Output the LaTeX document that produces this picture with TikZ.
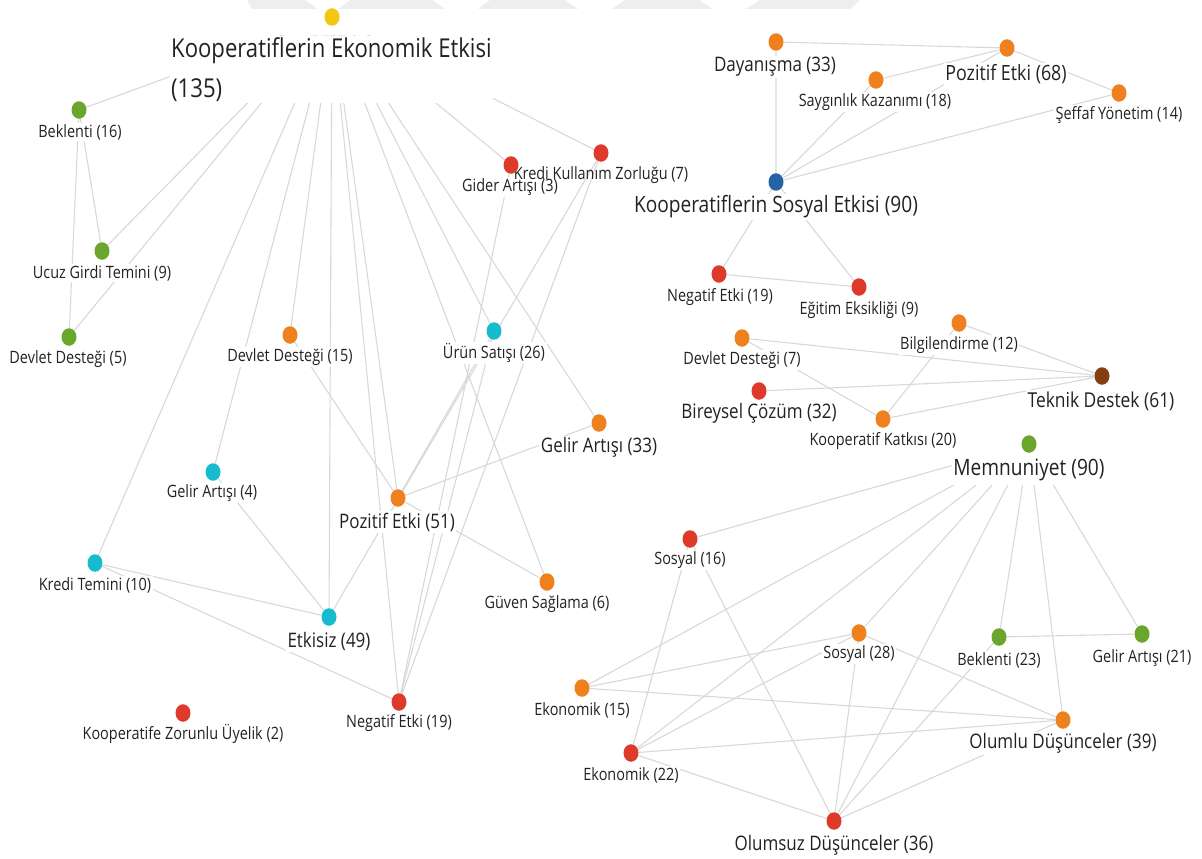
\documentclass[tikz,border=0pt]{standalone}
\usepackage{fontspec}
\setmainfont{Open Sans}[FakeStretch=0.85]
\usetikzlibrary{shapes.geometric,backgrounds}
\definecolor{cYellow}{RGB}{242,200,17}
\definecolor{cOrange}{RGB}{238,128,30}
\definecolor{cRed}{RGB}{221,58,42}
\definecolor{cGreen}{RGB}{106,166,44}
\definecolor{cCyan}{RGB}{22,188,206}
\definecolor{cBlue}{RGB}{38,98,168}
\definecolor{cBrown}{RGB}{132,62,16}
\definecolor{cLine}{RGB}{216,216,216}
\definecolor{cText}{RGB}{34,34,34}
\definecolor{cMark}{RGB}{238,238,238}
\begin{document}
\begin{tikzpicture}[x=1pt,y=-1pt,
  dot/.style={ellipse,inner sep=0pt,minimum width=15pt,minimum height=17.5pt},
  conn/.style={draw=cLine,line width=1.1pt},
  lbl/.style={fill=white,inner sep=1.5pt,text=cText,font=\fontsize{17}{20}\selectfont},
  midlbl/.style={lbl,font=\fontsize{20}{24}\selectfont},
  biglbl/.style={lbl,font=\fontsize{22.5}{27}\selectfont}]
\useasboundingbox (0,0) rectangle (1202,859);
% watermark at the top edge
\fill[cMark] (247,0) -- (305,0) -- (318,9) -- (252,9) -- cycle;
\fill[cMark] (350,0) -- (432,0) -- (445,9) -- (338,9) -- cycle;
\fill[cMark] (490,0) -- (565,0) -- (578,9) -- (478,9) -- cycle;
\fill[cMark] (625,0) -- (700,0) -- (712,9) -- (612,9) -- cycle;
\fill[cMark] (760,0) -- (860,0) -- (850,9) -- (745,9) -- cycle;
% labels, economic side
\node[lbl,anchor=north west,align=left,font=\fontsize{26}{40}\selectfont] (kee-l) at (169.5,35.5) {Kooperatiflerin Ekonomik Etkisi\\(135)};
\node[lbl] (bek16-l) at (80,132) {Beklenti (16)};
\node[lbl] (ugt-l) at (102,273) {Ucuz Girdi Temini (9)};
\node[lbl] (dd5-l) at (68,359) {Devlet Desteği (5)};
\node[lbl] (dd15-l) at (290,357) {Devlet Desteği (15)};
\node[lbl] (us26-l) at (494,353) {Ürün Satışı (26)};
\node[lbl] (gid3-l) at (510,187) {Gider Artışı (3)};
\node[lbl,fill=none] (kkz7-l) at (601,175) {Kredi Kullanım Zorluğu (7)};
\node[midlbl] (ga33-l) at (599,447) {Gelir Artışı (33)};
\node[lbl] (ga4-l) at (212,493) {Gelir Artışı (4)};
\node[midlbl] (pe51-l) at (397,522) {Pozitif Etki (51)};
\node[lbl] (kt10-l) at (95,585) {Kredi Temini (10)};
\node[midlbl] (etk49-l) at (329,641) {Etkisiz (49)};
\node[lbl] (gs6-l) at (547,604) {Güven Sağlama (6)};
\node[lbl] (kzu2-l) at (183,734) {Kooperatife Zorunlu Üyelik (2)};
\node[lbl] (ne19-l) at (399,723) {Negatif Etki (19)};
% labels, social side
\node[midlbl] (day33-l) at (775,67) {Dayanışma (33)};
\node[lbl,font=\fontsize{21}{25}\selectfont] (pe68-l) at (1006,74) {Pozitif Etki (68)};
\node[lbl] (say18-l) at (875,102) {Saygınlık Kazanımı (18)};
\node[lbl] (sef14-l) at (1119,115) {Şeffaf Yönetim (14)};
\node[biglbl] (kse-l) at (776,207) {Kooperatiflerin Sosyal Etkisi (90)};
\node[lbl] (neg19-l) at (720,297) {Negatif Etki (19)};
\node[lbl] (egi9-l) at (859,310) {Eğitim Eksikliği (9)};
\node[lbl] (dd7-l) at (742,360) {Devlet Desteği (7)};
\node[lbl] (bil12-l) at (959,345) {Bilgilendirme (12)};
\node[midlbl] (bir32-l) at (759,413) {Bireysel Çözüm (32)};
\node[lbl] (kk20-l) at (883,441) {Kooperatif Katkısı (20)};
\node[lbl,font=\fontsize{20.5}{24}\selectfont] (tek61-l) at (1101,401) {Teknik Destek (61)};
\node[biglbl,inner ysep=4pt] (mem90-l) at (1029,470) {Memnuniyet (90)};
\node[lbl] (sos16-l) at (690,560) {Sosyal (16)};
\node[lbl] (sos28-l) at (859,654) {Sosyal (28)};
\node[lbl] (bek23-l) at (999,660) {Beklenti (23)};
\node[lbl] (ga21-l) at (1142,658) {Gelir Artışı (21)};
\node[lbl] (eko15-l) at (582,710) {Ekonomik (15)};
\node[midlbl] (olu39-l) at (1063,743) {Olumlu Düşünceler (39)};
\node[lbl] (eko22-l) at (631,775) {Ekonomik (22)};
\node[midlbl] (ols36-l) at (834,845) {Olumsuz Düşünceler (36)};
% dots
\node[dot,fill=cYellow] (kee) at (332,17) {};
\node[dot,fill=cGreen] (bek16) at (79,110) {};
\node[dot,fill=cGreen] (ugt) at (102,251) {};
\node[dot,fill=cGreen] (dd5) at (69,337) {};
\node[dot,fill=cOrange] (dd15) at (290,335) {};
\node[dot,fill=cCyan] (us26) at (494,331) {};
\node[dot,fill=cRed] (gid3) at (511,165) {};
\node[dot,fill=cRed] (kkz7) at (601,153) {};
\node[dot,fill=cOrange] (ga33) at (599,423) {};
\node[dot,fill=cCyan] (ga4) at (213,472) {};
\node[dot,fill=cOrange] (pe51) at (398,498) {};
\node[dot,fill=cCyan] (kt10) at (95,563) {};
\node[dot,fill=cCyan] (etk49) at (329,617) {};
\node[dot,fill=cOrange] (gs6) at (547,582) {};
\node[dot,fill=cRed] (kzu2) at (183,713) {};
\node[dot,fill=cRed] (ne19) at (399,702) {};
\node[dot,fill=cOrange] (day33) at (776,42) {};
\node[dot,fill=cOrange] (pe68) at (1007,48) {};
\node[dot,fill=cOrange] (say18) at (876,80) {};
\node[dot,fill=cOrange] (sef14) at (1119,93) {};
\node[dot,fill=cBlue] (kse) at (776,182) {};
\node[dot,fill=cRed] (neg19) at (719,274) {};
\node[dot,fill=cRed] (egi9) at (859,287) {};
\node[dot,fill=cOrange] (dd7) at (742,338) {};
\node[dot,fill=cOrange] (bil12) at (959,323) {};
\node[dot,fill=cRed] (bir32) at (759,391) {};
\node[dot,fill=cOrange] (kk20) at (883,419) {};
\node[dot,fill=cBrown] (tek61) at (1102,376) {};
\node[dot,fill=cGreen] (mem90) at (1029,444) {};
\node[dot,fill=cRed] (sos16) at (690,539) {};
\node[dot,fill=cOrange] (sos28) at (859,633) {};
\node[dot,fill=cGreen] (bek23) at (999,637) {};
\node[dot,fill=cGreen] (ga21) at (1142,634) {};
\node[dot,fill=cOrange] (eko15) at (582,688) {};
\node[dot,fill=cOrange] (olu39) at (1063,720) {};
\node[dot,fill=cRed] (eko22) at (631,753) {};
\node[dot,fill=cRed] (ols36) at (834,821) {};
% connectors
\begin{scope}[on background layer]
  % economic impact
  \draw[conn] (kee) -- (bek16) (kee) -- (ugt) (kee) -- (dd5) (kee) -- (kt10) (kee) -- (ga4);
  \draw[conn] (kee) -- (dd15) (kee) -- (etk49) (kee) -- (pe51) (kee) -- (ne19) (kee) -- (us26);
  \draw[conn] (kee) -- (ga33) (kee) -- (gs6) (kee) -- (gid3) (kee) -- (kkz7);
  \draw[conn] (bek16) -- (ugt) (bek16) -- (dd5) (dd15) -- (pe51) (ga4) -- (etk49);
  \draw[conn] (kt10) -- (etk49) (kt10) -- (ne19) (us26) -- (pe51) (us26) -- (ne19);
  \draw[conn] (kkz7) -- (etk49) (kkz7) -- (ne19) (gid3) -- (ne19) (ga33) -- (pe51) (pe51) -- (gs6);
  % social impact
  \draw[conn] (day33) -- (pe68) (day33) -- (kse) (say18) -- (pe68) (pe68) -- (sef14);
  \draw[conn] (say18) -- (kse) (pe68) -- (kse) (sef14) -- (kse);
  \draw[conn] (kse) -- (neg19) (kse) -- (egi9) (neg19) -- (egi9);
  % technical support
  \draw[conn] (dd7) -- (tek61) (bil12) -- (tek61) (bir32) -- (tek61) (kk20) -- (tek61);
  \draw[conn] (dd7) -- (kk20) (bil12) -- (kk20);
  % satisfaction
  \draw[conn] (mem90) -- (sos16) (mem90) -- (eko15) (mem90) -- (eko22) (mem90) -- (sos28);
  \draw[conn] (mem90) -- (ols36) (mem90) -- (bek23) (mem90) -- (olu39) (mem90) -- (ga21);
  \draw[conn] (bek23) -- (ga21) (sos16) -- (eko22) (sos16) -- (ols36);
  \draw[conn] (eko15) -- (sos28) (eko15) -- (olu39);
  \draw[conn] (eko22) -- (sos28) (eko22) -- (olu39) (eko22) -- (ols36);
  \draw[conn] (sos28) -- (ols36) (sos28) -- (olu39) (bek23) -- (ols36) (olu39) -- (ols36);
  % keep the gap between a hub dot and its label clear
  \fill[white] ([xshift=-60pt]kee.center) rectangle ([xshift=60pt]kee-l.north);
  \fill[white] ([xshift=-40pt]mem90.center) rectangle ([xshift=40pt]mem90-l.north);
\end{scope}
\end{tikzpicture}
\end{document}
